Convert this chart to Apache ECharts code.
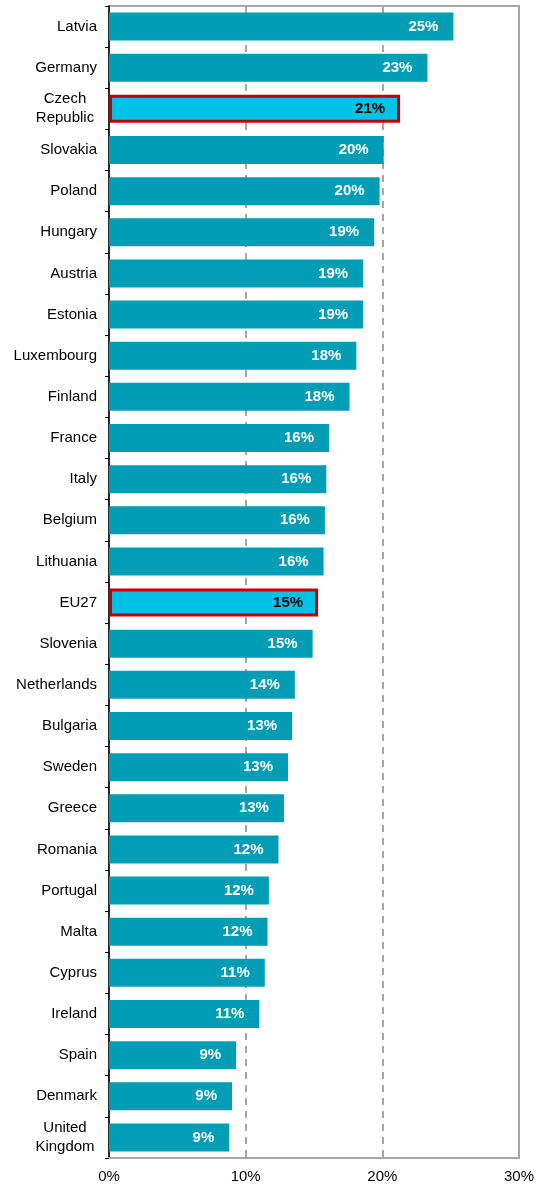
<!DOCTYPE html>
<html>
<head>
<meta charset="utf-8">
<script src="https://cdn.jsdelivr.net/npm/echarts@6/dist/echarts.min.js"></script>
<style>
  html, body { margin: 0; padding: 0; background: #fff; }
  #main { width: 539px; height: 1186px; }
</style>
</head>
<body>
<div id="main"></div>
<script>
// categories top to bottom
var countries = ['Latvia', 'Germany', 'Czech\nRepublic', 'Slovakia', 'Poland', 'Hungary', 'Austria',
  'Estonia', 'Luxembourg', 'Finland', 'France', 'Italy', 'Belgium', 'Lithuania', 'EU27',
  'Slovenia', 'Netherlands', 'Bulgaria', 'Sweden', 'Greece', 'Romania', 'Portugal', 'Malta',
  'Cyprus', 'Ireland', 'Spain', 'Denmark', 'United\nKingdom'];

// share in %
var shares = [25.2, 23.3, 21.3, 20.1, 19.8, 19.4, 18.6, 18.6, 18.1, 17.6, 16.1, 15.9, 15.8, 15.7,
  15.3, 14.9, 13.6, 13.4, 13.1, 12.8, 12.4, 11.7, 11.6, 11.4, 11.0, 9.3, 9.0, 8.8];

var highlighted = ['Czech\nRepublic', 'EU27'];

var xTicks = [0, 10, 20, 30];

var myChart = echarts.init(document.getElementById('main'));

// build bar items, highlight CZ and EU27
var barData = shares.map(function (v, i) {
  if (highlighted.indexOf(countries[i]) >= 0) {
    return {
      value: v,
      itemStyle: { color: '#00C2E6', borderColor: '#C00000', borderWidth: 3 },
      label: { color: '#000' }
    };
  }
  return v;
});

var option = {
  animation: false,
  grid: {
    left: 109, right: 20, top: 6, bottom: 28,
    show: true, borderColor: '#A6A6A6', borderWidth: 2
  },
  xAxis: {
    type: 'value',
    min: xTicks[0], max: xTicks[xTicks.length - 1], interval: 10,
    axisLine: { show: true, lineStyle: { color: '#A6A6A6', width: 2 } },
    axisTick: { show: false },
    axisLabel: {
      formatter: '{value}%', color: '#000', fontSize: 15, margin: 11,
      fontFamily: 'Liberation Sans, Arial'
    },
    splitLine: { show: true, lineStyle: { color: '#A6A6A6', width: 2, type: [7, 6] } }
  },
  yAxis: {
    type: 'category',
    data: countries,
    inverse: true,
    axisLine: { show: true, lineStyle: { color: '#000', width: 1.5 } },
    axisTick: { show: true, length: 4, lineStyle: { color: '#000' } },
    axisLabel: {
      color: '#000', fontSize: 15, margin: 12,
      fontFamily: 'Liberation Sans, Arial',
      formatter: function (v) {
        // two-line names are centred on each other
        if (v.indexOf('\n') >= 0) {
          return v.split('\n').map(function (s) { return '{c|' + s + '}'; }).join('\n');
        }
        return v;
      },
      rich: {
        c: { width: 64, align: 'center', fontSize: 15, lineHeight: 19, color: '#000',
             fontFamily: 'Liberation Sans, Arial' }
      }
    }
  },
  series: [{
    type: 'bar',
    data: barData,
    barCategoryGap: '32%',
    itemStyle: { color: '#009DB5' },
    label: {
      show: true,
      position: 'insideRight',
      distance: 15,
      color: '#fff',
      fontWeight: 'bold',
      fontSize: 15,
      fontFamily: 'Liberation Sans, Arial',
      formatter: function (p) { return Math.round(p.value) + '%'; }
    }
  }]
};

myChart.setOption(option);
</script>
</body>
</html>
